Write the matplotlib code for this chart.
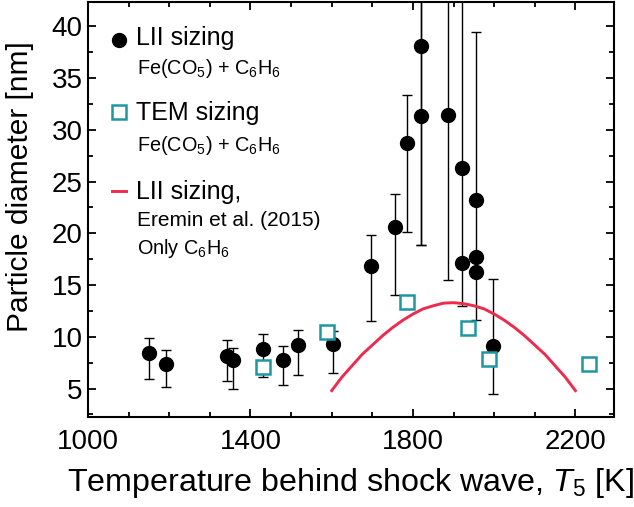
import numpy as np
import matplotlib
matplotlib.use("Agg")
from matplotlib import pyplot as plt

plt.rcParams['font.family'] = ['Liberation Sans', 'DejaVu Sans']
plt.rcParams['mathtext.fontset'] = 'custom'
plt.rcParams['mathtext.rm'] = 'Liberation Sans'
plt.rcParams['mathtext.it'] = 'Liberation Sans:italic'

# LII sizing, Fe(CO)5 + C6H6 (value, lower end, upper end of error bar)
lii_T = [1149, 1191, 1343, 1357, 1430, 1479, 1517, 1604, 1697, 1757, 1786,
         1820, 1820, 1886, 1921, 1921, 1955, 1955, 1955, 1996]
lii_d = [8.45, 7.37, 8.1, 7.72, 8.86, 7.75, 9.25, 9.29, 16.8, 20.57, 28.76,
         38.1, 31.3, 31.4, 26.35, 17.15, 23.19, 17.71, 16.27, 9.15]
lii_lo = [5.89, 5.16, 5.74, 5.0, 6.08, 5.32, 6.34, 6.47, 11.5, 14.08, 20.14,
          18.9, 18.9, 15.5, 13.0, 17.15, 11.67, 17.71, 16.27, 4.49]
lii_hi = [9.86, 8.74, 9.7, 8.93, 10.27, 9.09, 10.69, 10.6, 19.82, 23.84, 33.4,
          50, 50, 50, 50, 17.15, 39.45, 17.71, 16.27, 15.6]

# TEM sizing
tem_T = [1430, 1589, 1786, 1935, 1988, 2233]
tem_d = [7.04, 10.44, 13.4, 10.85, 7.88, 7.33]

# LII sizing, Eremin et al. (2015), only C6H6
ere_T = [1600, 1625, 1650, 1675, 1700, 1725, 1750, 1775, 1800, 1825, 1850, 1875,
         1900, 1925, 1950, 1975, 2000, 2025, 2050, 2075, 2100, 2125, 2150, 2175, 2200]
ere_d = [4.8, 6.1, 7.2, 8.3, 9.2, 10.1, 10.9, 11.6, 12.2, 12.7, 13.0, 13.25,
         13.3, 13.2, 13.0, 12.7, 12.2, 11.6, 10.9, 10.1, 9.2, 8.3, 7.2, 6.1, 4.8]

teal = '#1f97a3'
red = '#ee2a4d'

W, H = 634, 507
fig = plt.figure(figsize=(W / 100, H / 100), dpi=100)
ax = fig.add_axes([88 / W, 1 - 416.5 / H, (614 - 88) / W, (416.5 - 1.5) / H])

d = np.array(lii_d)
yerr = [d - np.array(lii_lo), np.array(lii_hi) - d]
ax.errorbar(lii_T, lii_d, yerr=yerr, fmt='none', ecolor='black', elinewidth=1.0,
            capsize=3.6, capthick=1.0, zorder=2)
ax.plot(ere_T, ere_d, color=red, lw=2.1, zorder=3)
ax.plot(lii_T, lii_d, 'o', color='black', ms=10, zorder=4)
ax.plot(tem_T, tem_d, 's', mfc='white', mec=teal, mew=1.8, ms=9.5, zorder=5)

ax.set_xlim(1000, 2295)
ax.set_ylim(2.3, 42.4)
ax.set_xticks([1000, 1400, 1800, 2200])
ax.set_xticks(np.arange(1100, 2300, 100), minor=True)
ax.set_yticks([5, 10, 15, 20, 25, 30, 35, 40])
ax.set_yticks(np.arange(2.5, 42.5, 2.5), minor=True)
ax.tick_params(which='both', direction='in', top=True, right=True, width=1.3,
               labelsize=20)
ax.tick_params(axis='x', which='both', pad=9)
ax.tick_params(axis='y', which='both', pad=4)
ax.tick_params(which='major', length=6)
ax.tick_params(which='minor', length=3.5)
for s in ax.spines.values():
    s.set_linewidth(1.5)

ax.set_xlabel('Temperature behind shock wave, $\\mathit{T}_{\\mathrm{5}}$ [K]', fontsize=23.2, labelpad=8)
ax.set_ylabel('Particle diameter [nm]', fontsize=21.5)
ax.yaxis.set_label_coords(-0.102, 0.555)

# legend drawn by hand
def fx(px):
    return px / W

def fy(py):
    return 1 - py / H

fig.lines.append(plt.Line2D([fx(119)], [fy(39.5)], marker='o', color='black', ms=10,
                            transform=fig.transFigure))
fig.lines.append(plt.Line2D([fx(119)], [fy(111.5)], marker='s', mfc='white', mec=teal,
                            mew=1.8, ms=9.5, transform=fig.transFigure))
fig.lines.append(plt.Line2D([fx(112), fx(126)], [fy(190.5), fy(190.5)], color=red, lw=2.1,
                            transform=fig.transFigure))
sub = 'Fe(CO$_{\\mathrm{5}}$) + C$_{\\mathrm{6}}$H$_{\\mathrm{6}}$'
big, small = 18, 15
fig.text(fx(136), fy(45), 'LII sizing', fontsize=big, va='baseline')
fig.text(fx(137), fy(74), sub, fontsize=14.3, va='baseline')
fig.text(fx(136), fy(120), 'TEM sizing', fontsize=big, va='baseline')
fig.text(fx(137), fy(150.5), sub, fontsize=14.3, va='baseline')
fig.text(fx(136), fy(199.5), 'LII sizing,', fontsize=big, va='baseline')
fig.text(fx(137), fy(226.5), 'Eremin et al. (2015)', fontsize=small, va='baseline')
fig.text(fx(137), fy(254), 'Only C$_{\\mathrm{6}}$H$_{\\mathrm{6}}$', fontsize=14.3, va='baseline')

fig.savefig('out.png', dpi=100)
